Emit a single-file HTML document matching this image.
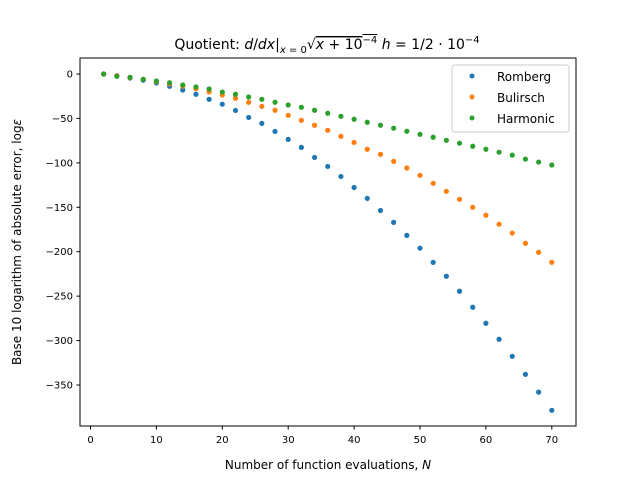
<!DOCTYPE html>
<html><head><meta charset="utf-8"><style>
body{margin:0;background:#fff;}
svg{display:block;font-family:"DejaVu Sans","Liberation Sans",sans-serif;}
</style></head><body>
<svg id="chart" width="640" height="480" viewBox="0 0 640 480">
<rect width="640" height="480" fill="#fff"/>
<text x="327" y="49" text-anchor="middle" font-size="14">Quotient: <tspan font-style="italic">d</tspan>/<tspan font-style="italic">dx</tspan>|<tspan font-size="10" dy="4"><tspan font-style="italic">x</tspan> = 0</tspan><tspan dy="-4">√</tspan><tspan text-decoration="overline"><tspan font-style="italic">x</tspan> + 10<tspan font-size="10" dy="-6">−4</tspan></tspan><tspan dy="6">  </tspan><tspan font-style="italic">h</tspan> = 1/2 · 10<tspan font-size="10" dy="-6">−4</tspan></text>
<g id="marks"></g>
<rect x="80" y="58" width="496" height="368" fill="none" stroke="#000" stroke-width="1"/>
<g id="xticks"></g><g id="yticks"></g>
<text x="328" y="469" text-anchor="middle" font-size="12">Number of function evaluations, <tspan font-style="italic">N</tspan></text>
<text transform="translate(21,242) rotate(-90)" text-anchor="middle" font-size="12">Base 10 logarithm of absolute error, log<tspan font-style="italic">ε</tspan></text>
<g>
<rect x="452" y="65" width="117" height="67" rx="3" fill="#fff" fill-opacity="0.8" stroke="#ccc"/>
<circle cx="472" cy="76" r="2.5" fill="#1f77b4"/><text x="497" y="81" font-size="12">Romberg</text>
<circle cx="472" cy="97" r="2.5" fill="#ff7f0e"/><text x="497" y="102" font-size="12">Bulirsch</text>
<circle cx="472" cy="118" r="2.5" fill="#2ca02c"/><text x="497" y="123" font-size="12">Harmonic</text>
</g>
</svg>
<script>
const N = [2,4,6,8,10,12,14,16,18,20,22,24,26,28,30,32,34,36,38,40,42,44,46,48,50,52,54,56,58,60,62,64,66,68,70];
const romberg = [0,-2,-4.5,-7,-10,-13.8,-18,-22.8,-28.5,-34,-41,-48.9,-55.6,-64.6,-73.6,-82.6,-93.9,-104,-115.3,-127.7,-140,-153.6,-167,-181.6,-196,-212,-227.6,-244.5,-262.5,-280.5,-298.5,-317.7,-338,-358,-378.5];
const bulirsch = [0,-2,-4,-6,-8.5,-11,-13.5,-16.5,-20,-23.6,-27.4,-31.9,-36.4,-40.8,-46.5,-52.1,-57.7,-63.4,-70.1,-77,-84.7,-90.4,-98.3,-105.8,-114,-123,-132,-141,-150,-159,-169,-179,-190.5,-200.7,-211.9];
const harmonic = [0,-2.6,-3.7,-6,-7.9,-9.8,-12.4,-14.6,-16.9,-20.3,-22.8,-25.9,-28.5,-31.8,-34.9,-37.5,-40.8,-44.2,-47.6,-50.9,-54.3,-57.7,-61,-64.4,-67.9,-71.2,-74.6,-77.9,-81.3,-84.7,-88,-91.3,-95.8,-99.1,-102.4];
const xTicks = [0,10,20,30,40,50,60,70];
const yTicks = [0,-50,-100,-150,-200,-250,-300,-350];
const xs = v => 90.5 + v*6.59;
const ys = v => 74 - v*0.8886;
const NS = 'http://www.w3.org/2000/svg';
const marks = document.getElementById('marks');
[[romberg,'#1f77b4','romberg'],[bulirsch,'#ff7f0e','bulirsch'],[harmonic,'#2ca02c','harmonic']].forEach(([arr,col,nm])=>{
  arr.forEach((v,i)=>{
    const c=document.createElementNS(NS,'circle');
    c.setAttribute('cx',xs(N[i]));c.setAttribute('cy',ys(v));c.setAttribute('r',2.6);c.setAttribute('fill',col);
    
    
    marks.appendChild(c);
  });
});
const xt=document.getElementById('xticks');
xTicks.forEach(t=>{
  const x=xs(t);
  const l=document.createElementNS(NS,'line');
  l.setAttribute('x1',x);l.setAttribute('x2',x);l.setAttribute('y1',426);l.setAttribute('y2',429.5);l.setAttribute('stroke','#000');
  xt.appendChild(l);
  const tx=document.createElementNS(NS,'text');
  tx.setAttribute('x',x);tx.setAttribute('y',443);tx.setAttribute('text-anchor','middle');tx.setAttribute('font-size','10');
  tx.textContent=t;
  
  
  xt.appendChild(tx);
});
const yt=document.getElementById('yticks');
yTicks.forEach(t=>{
  const y=ys(t);
  const l=document.createElementNS(NS,'line');
  l.setAttribute('x1',76.5);l.setAttribute('x2',80);l.setAttribute('y1',y);l.setAttribute('y2',y);l.setAttribute('stroke','#000');
  yt.appendChild(l);
  const tx=document.createElementNS(NS,'text');
  tx.setAttribute('x',73);tx.setAttribute('y',y+3.5);tx.setAttribute('text-anchor','end');tx.setAttribute('font-size','10');
  tx.textContent=t===0?'0':'\u2212'+Math.abs(t);
  
  
  yt.appendChild(tx);
});
</script>
</body></html>
